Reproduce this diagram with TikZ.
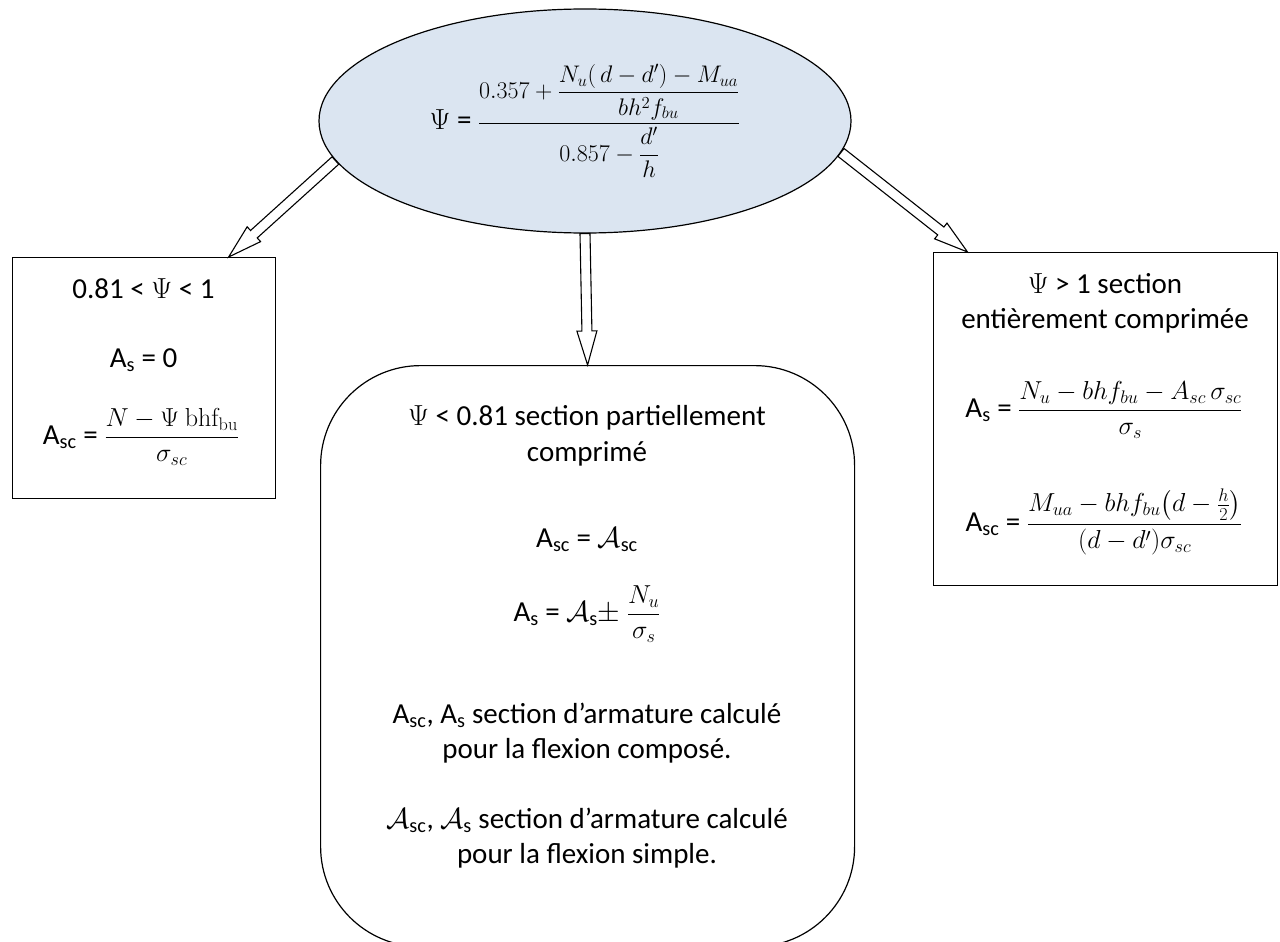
\RequirePackage{fix-cm}
\documentclass[tikz,border=0pt]{standalone}
\usepackage{amsmath}
\usepackage[no-math]{fontspec}
\setmainfont{Carlito}
\usetikzlibrary{shapes.geometric,calc}
\definecolor{psiblue}{HTML}{DBE5F1}
\newcommand\mtx{\fontsize{24}{28}\selectfont}
\newcommand\mbx{\fontsize{26}{30}\selectfont}

\tikzset{
  box/.style={draw,line width=1.2pt,inner sep=0pt},
  txt/.style={anchor=base,inner sep=0pt,font=\fontsize{29}{36}\selectfont},
  hollow/.style={draw,fill=white,line width=1.1pt,line join=miter,
    to path={
      ($(\tikztostart)!5pt!90:(\tikztotarget)$)
      -- ($($(\tikztotarget)!34pt!(\tikztostart)$)!5pt!90:(\tikztotarget)$)
      -- ($($(\tikztotarget)!34pt!(\tikztostart)$)!10pt!90:(\tikztotarget)$)
      -- (\tikztotarget)
      -- ($($(\tikztotarget)!34pt!(\tikztostart)$)!10pt!-90:(\tikztotarget)$)
      -- ($($(\tikztotarget)!34pt!(\tikztostart)$)!5pt!-90:(\tikztotarget)$)
      -- ($(\tikztostart)!5pt!-90:(\tikztotarget)$)
      -- cycle}}
}

\begin{document}
\begin{tikzpicture}[x=1pt,y=-1pt]
  \clip (0,0) rectangle (1280,942);
  % ----- psi -----
  \node[ellipse,draw,line width=1.2pt,fill=psiblue,minimum width=532pt,minimum height=224pt,inner sep=0pt,font=\fontsize{29}{36}\selectfont] (psi) at (585,121)
    {$\Psi$ = {\mtx$\dfrac{0.357+\dfrac{N_u(\,d-d')-M_{ua}}{bh^2f_{bu}}}{0.857-\dfrac{d'}{h}}$}};
  % ----- boxes -----
  \node[box,anchor=north west,minimum width=263pt,minimum height=241pt] (low) at (12,257) {};
  \node[box,anchor=north west,minimum width=534pt,minimum height=581pt,rounded corners=100pt] (mid) at (320,365) {};
  \node[box,anchor=north west,minimum width=344pt,minimum height=333pt] (high) at (933,252) {};
  % ----- 0.81 < psi < 1 -----
  \node[txt] (low1) at (143.5,298) {0.81 < $\Psi$ < 1};
  \node[txt] (low2) at (143.5,367) {A\textsubscript{s} = 0};
  \node[txt] (low3) at (141,444) {A\textsubscript{sc} = {\mbx$\dfrac{N-\Psi\ \mathrm{bhf_{bu}}}{\sigma_{sc}}$}};
  % ----- psi < 0.81 -----
  \foreach \i/\yy/\t in {1/425/{$\Psi$ < 0.81 section partiellement},
                         2/461/{comprimé},
                         3/547/{A\textsubscript{sc} = $\mathcal{A}$\textsubscript{sc}},
                         4/621/{A\textsubscript{s} = $\mathcal{A}$\textsubscript{s}$\pm$ {\mbx$\dfrac{N_u}{\sigma_s}$}},
                         5/723/{A\textsubscript{sc}, A\textsubscript{s} section d’armature calculé},
                         6/758/{pour la flexion composé.},
                         7/828/{$\mathcal{A}$\textsubscript{sc}, $\mathcal{A}$\textsubscript{s} section d’armature calculé},
                         8/863/{pour la flexion simple.}}
    \node[txt] (mid\i) at (587,\yy) {\t};
  % ----- psi > 1 -----
  \node[txt] (high1) at (1105,293) {$\Psi$ > 1 section};
  \node[txt] (high2) at (1105,328) {entièrement comprimée};
  \node[txt] (high3) at (1104,417) {A\textsubscript{s} = {\mbx$\dfrac{N_u - bhf_{bu}-A_{sc}\,\sigma_{sc}}{\sigma_s}$}};
  \node[txt] (high4) at (1104,531) {A\textsubscript{sc} = {\mbx$\dfrac{M_{ua}- bhf_{bu}\bigl(d-\frac{h}{2}\bigr)}{(d-d')\sigma_{sc}}$}};
  % ----- arrows -----
  \coordinate (lowtip) at ($(low.north west)!0.82!(low.north east)$);
  \coordinate (midtip) at (mid.north);
  \coordinate (hightip) at ($(high.north west)!0.1!(high.north east)$);
  \draw[hollow] (psi.189.5) to (lowtip);
  \draw[hollow] (psi.south) to (midtip);
  \draw[hollow] (psi.353.8) to (hightip);
\end{tikzpicture}
\end{document}
